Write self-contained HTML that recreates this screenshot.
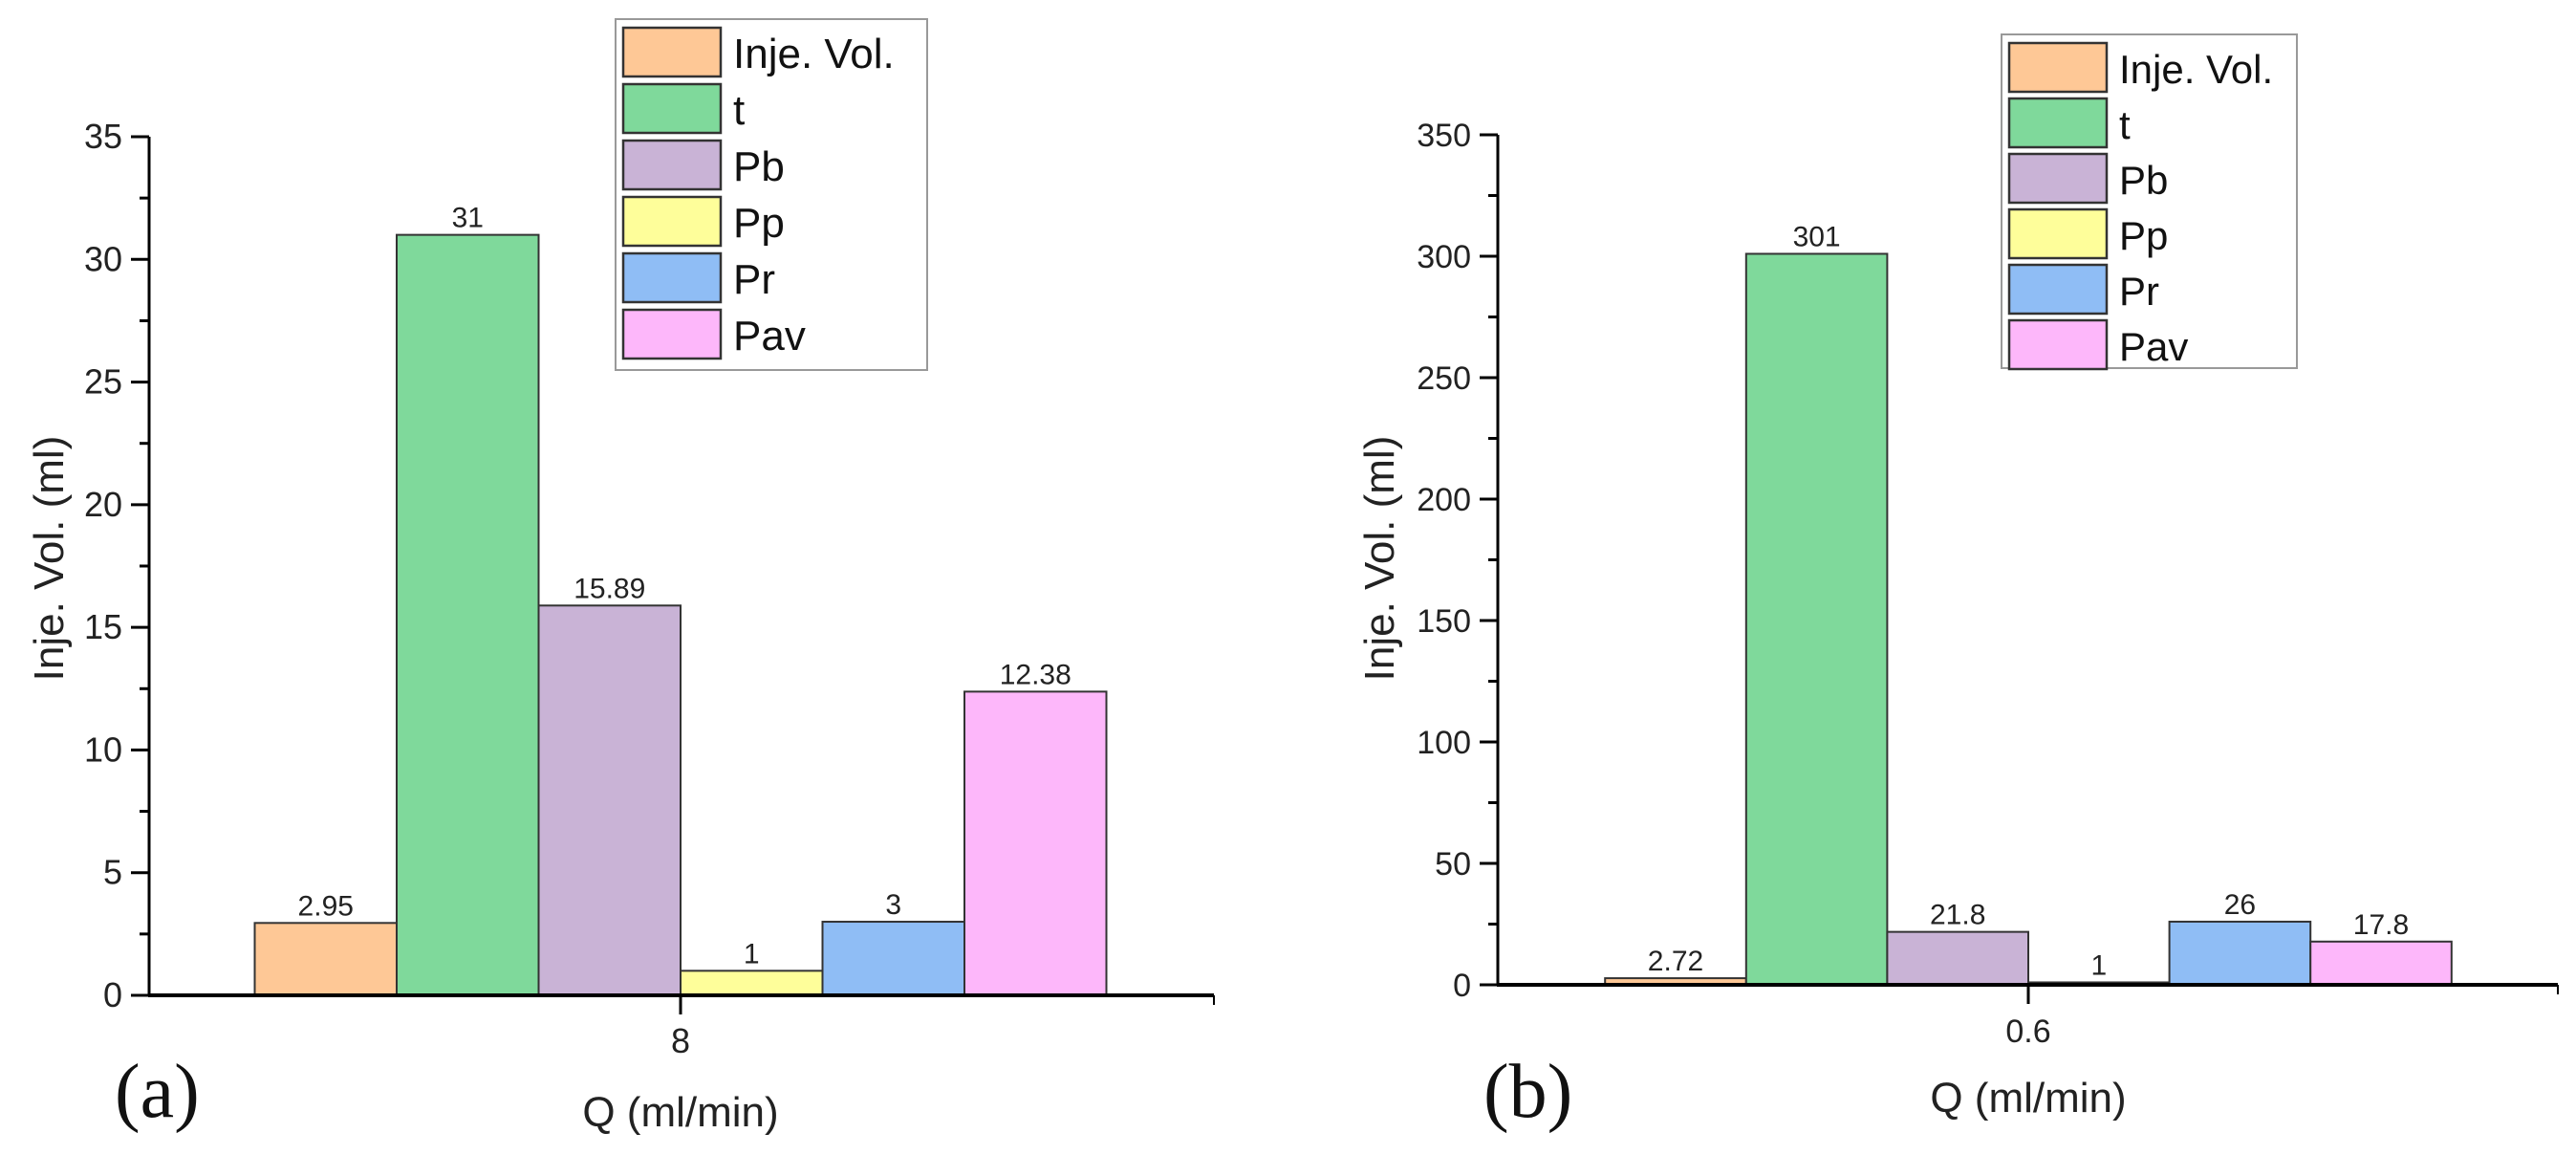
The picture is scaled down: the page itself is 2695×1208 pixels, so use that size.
<!DOCTYPE html>
<html><head><meta charset="utf-8"><style>
html,body{margin:0;padding:0;background:#fff;}
svg{display:block;font-family:"Liberation Sans",Arial,sans-serif;}
</style></head><body>
<svg id="chart" width="2695" height="1208" viewBox="0 0 2695 1208" xmlns="http://www.w3.org/2000/svg"></svg>
<script>
const seriesNames = ["Inje. Vol.", "t", "Pb", "Pp", "Pr", "Pav"];
const seriesColors = ["#fec896", "#7fd99b", "#c9b3d6", "#fefe9a", "#8fbdf5", "#fdb7fa"];
const valuesA = [2.95, 31, 15.89, 1, 3, 12.38];
const labelsA = ["2.95", "31", "15.89", "1", "3", "12.38"];
const valuesB = [2.72, 301, 21.8, 1, 26, 17.8];
const labelsB = ["2.72", "301", "21.8", "1", "26", "17.8"];
const ticksA = [0, 5, 10, 15, 20, 25, 30, 35];
const ticksB = [0, 50, 100, 150, 200, 250, 300, 350];
const categoryA = ["8"];
const categoryB = ["0.6"];

const NS = "http://www.w3.org/2000/svg";
const svg = document.getElementById("chart");
function mk(tag, attrs, parent) {
  const e = document.createElementNS(NS, tag);
  for (const k in attrs) e.setAttribute(k, attrs[k]);
  (parent || svg).appendChild(e);
  return e;
}

function panel(cfg) {
  const g = mk("g", {});
  
  
  const yScale = v => cfg.y0 - (v - cfg.min) / (cfg.max - cfg.min) * (cfg.y0 - cfg.yTop);
  const barW = cfg.barW;
  const groupStart = cfg.catX - barW * cfg.values.length / 2;
  // bars
  cfg.values.forEach((v, i) => {
    const x = groupStart + i * barW;
    const y = yScale(v);
    const r = mk("rect", {x: x, y: y, width: barW, height: cfg.y0 - y, fill: seriesColors[i], stroke: "#333", "stroke-width": 2}, g);
    
    
    const t = mk("text", {x: x + barW / 2, y: y - 8, "text-anchor": "middle", "font-size": 30, fill: "#222"}, g);
    t.textContent = cfg.labels[i];
    
    
  });
  // y axis
  const ya = mk("line", {x1: cfg.axX, y1: cfg.yTop, x2: cfg.axX, y2: cfg.y0 + 1, stroke: "#000", "stroke-width": 3}, g);
  
  
  cfg.ticks.forEach((tv, i) => {
    const y = yScale(tv);
    const tl = mk("line", {x1: cfg.axX - 19, y1: y, x2: cfg.axX, y2: y, stroke: "#000", "stroke-width": 3}, g);
    
    
    const lab = mk("text", {x: cfg.axX - 28, y: y + 12, "text-anchor": "end", "font-size": cfg.tickFont, fill: "#222"}, g);
    lab.textContent = String(tv);
    
    
    if (i < cfg.ticks.length - 1) {
      const my = yScale((tv + cfg.ticks[i + 1]) / 2);
      const ml = mk("line", {x1: cfg.axX - 10, y1: my, x2: cfg.axX, y2: my, stroke: "#000", "stroke-width": 3}, g);
      
      
    }
  });
  // x axis
  const xa = mk("line", {x1: cfg.axX - 1, y1: cfg.y0, x2: cfg.axEnd, y2: cfg.y0, stroke: "#000", "stroke-width": 4}, g);
  
  
  mk("line", {x1: cfg.axEnd, y1: cfg.y0, x2: cfg.axEnd, y2: cfg.y0 + 10, stroke: "#000", "stroke-width": 2}, g);
  const xt = mk("line", {x1: cfg.catX, y1: cfg.y0, x2: cfg.catX, y2: cfg.y0 + 20, stroke: "#000", "stroke-width": 3}, g);
  
  
  const xl = mk("text", {x: cfg.catX, y: cfg.y0 + 60, "text-anchor": "middle", "font-size": cfg.tickFont, fill: "#222"}, g);
  xl.textContent = cfg.category[0];
  
  
  const xtitle = mk("text", {x: cfg.catX, y: cfg.xTitleY, "text-anchor": "middle", "font-size": 44, fill: "#222"}, g);
  xtitle.textContent = "Q (ml/min)";
  
  
  const ytitle = mk("text", {x: 0, y: 0, "text-anchor": "middle", "font-size": 44, fill: "#222", transform: "translate(" + cfg.yTitleX + "," + 584 + ") rotate(-90)"}, g);
  ytitle.textContent = "Inje. Vol. (ml)";
  
  
  const pl = mk("text", {x: cfg.plX, y: 1168, "font-size": 80, fill: "#111", "font-family": "Liberation Serif, serif"}, g);
  pl.textContent = cfg.panelLabel;
  
  
  // legend
  const lg = mk("g", {}, g);
  
  
  mk("rect", {x: cfg.lgX, y: cfg.lgY, width: cfg.lgW, height: cfg.lgH, fill: "#fff", stroke: "#999", "stroke-width": 2}, lg);
  seriesNames.forEach((n, i) => {
    const sy = cfg.lgY + 9 + i * cfg.lgStep;
    const sw = mk("rect", {x: cfg.lgX + 8, y: sy, width: 102, height: 51, fill: seriesColors[i], stroke: "#333", "stroke-width": 2.5}, lg);
    
    
    const lt = mk("text", {x: cfg.lgX + 123, y: sy + 42, "font-size": cfg.lgFont, fill: "#111"}, lg);
    lt.textContent = n;
    
    
  });
}

panel({name: "chart-a", values: valuesA, labels: labelsA, ticks: ticksA, category: categoryA, min: 0, max: 35,
  y0: 1041, yTop: 143, axX: 156, axEnd: 1270, catX: 712, barW: 148.5, tickFont: 36,
  xTitleY: 1178, yTitleX: 66, plX: 120, panelLabel: "(a)",
  lgX: 644, lgY: 20, lgW: 326, lgH: 367, lgStep: 59, lgFont: 44});
panel({name: "chart-b", values: valuesB, labels: labelsB, ticks: ticksB, category: categoryB, min: 0, max: 350,
  y0: 1030, yTop: 141, axX: 1567, axEnd: 2676, catX: 2122, barW: 147.6, tickFont: 34,
  xTitleY: 1163, yTitleX: 1458, plX: 1552, panelLabel: "(b)",
  lgX: 2094, lgY: 36, lgW: 309, lgH: 349, lgStep: 58, lgFont: 42});
</script>
</body></html>
